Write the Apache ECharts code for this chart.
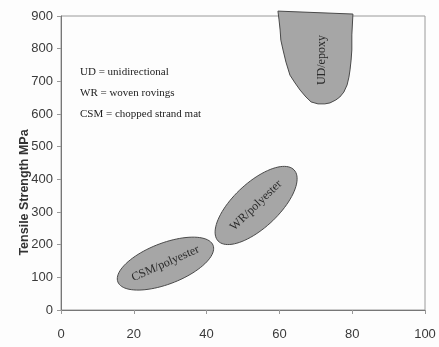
<!DOCTYPE html>
<html>
<head>
<meta charset="utf-8">
<script src="https://cdn.jsdelivr.net/npm/echarts@6/dist/echarts.min.js"></script>
<style>
html,body{margin:0;padding:0;background:#fdfdfd;}
#chart{width:439px;height:347px;}
</style>
</head>
<body>
<div id="chart"></div>
<script>
// ---- data ----
const xTicks = [0, 20, 40, 60, 80, 100];
const yTicks = [0, 100, 200, 300, 400, 500, 600, 700, 800, 900];
const yTitle = 'Tensile Strength MPa';
const ellipseNames = ['CSM/polyester', 'WR/polyester'];
const ellipseCenterX = [28.7, 53.6];
const ellipseCenterY = [142, 320];
const udName = 'UD/epoxy';
const udOutlineX = [59.6, 59.9, 60.2, 60.4, 61.0, 61.8, 62.9, 64.3, 65.7, 67.3, 68.7, 70.6, 72.5, 73.9, 75.5, 76.6, 77.7, 78.6, 79.1, 79.4, 79.7, 79.9, 79.9, 80.2];
const udOutlineY = [915, 888, 857, 826, 796, 759, 719, 695, 673, 652, 637, 631, 631, 634, 643, 652, 667, 689, 713, 735, 765, 796, 842, 906];
const udLabelX = [71.7];
const udLabelY = [765];
const notes = ['UD = unidirectional', 'WR = woven rovings', 'CSM = chopped strand mat'];

// ---- styles ----
const ellipseA = [51, 52];
const ellipseB = [20.5, 22.5];
const ellipseTilt = [21, 43];
const labelTilt = [24, 44];
const fillCol = '#a6a6a6';
const strokeCol = '#4a4a4a';
const serif = '"Liberation Serif", "Times New Roman", serif';
const sans = '"Liberation Sans", Arial, sans-serif';

const chart = echarts.init(document.getElementById('chart'), null, {renderer: 'canvas'});

function ellipseItem(params, api) {
  const i = params.dataIndex;
  const c = api.coord([api.value(0), api.value(1)]);
  const a = ellipseA[i], b = ellipseB[i], th = ellipseTilt[i] * Math.PI / 180;
  const pts = [];
  for (let k = 0; k < 90; k++) {
    const t = k / 90 * Math.PI * 2;
    const ex = a * Math.cos(t), ey = b * Math.sin(t);
    pts.push([c[0] + ex * Math.cos(th) - ey * Math.sin(th), c[1] - (ex * Math.sin(th) + ey * Math.cos(th))]);
  }
  return {
    type: 'group',
    children: [
      {type: 'polygon', shape: {points: pts}, style: {fill: fillCol, stroke: strokeCol, lineWidth: 1}},
      {type: 'text', x: c[0], y: c[1], rotation: labelTilt[i] * Math.PI / 180,
        style: {text: ellipseNames[i], font: '12px ' + serif, fill: '#2a2a2a', align: 'center', verticalAlign: 'middle'}}
    ]
  };
}

function udItem(params, api) {
  const pts = udOutlineX.map((x, k) => api.coord([x, udOutlineY[k]]));
  const lc = api.coord([udLabelX[0], udLabelY[0]]);
  return {
    type: 'group',
    children: [
      {type: 'polygon', shape: {points: pts}, style: {fill: fillCol, stroke: strokeCol, lineWidth: 1, lineJoin: 'round'}},
      {type: 'text', x: lc[0], y: lc[1], rotation: Math.PI / 2,
        style: {text: udName, font: '12px ' + serif, fill: '#2a2a2a', align: 'center', verticalAlign: 'middle'}}
    ]
  };
}

const option = {
  backgroundColor: '#fdfdfd',
  animation: false,
  grid: {left: 61, right: 14, top: 16, bottom: 37, show: true, borderColor: '#9a9a9a', borderWidth: 1, backgroundColor: 'transparent'},
  xAxis: {
    type: 'value', min: xTicks[0], max: xTicks[xTicks.length - 1], interval: 20,
    axisLine: {show: true, lineStyle: {color: '#777', width: 1}},
    axisTick: {show: true, inside: false, length: 4, lineStyle: {color: '#999'}},
    axisLabel: {margin: 18, color: '#3a3a3a', fontSize: 13, fontFamily: sans},
    splitLine: {show: false}
  },
  yAxis: {
    type: 'value', min: yTicks[0], max: yTicks[yTicks.length - 1], interval: 100,
    axisLine: {show: true, lineStyle: {color: '#777', width: 1}},
    axisTick: {show: true, length: 4, lineStyle: {color: '#999'}},
    axisLabel: {margin: 8, color: '#3a3a3a', fontSize: 13, fontFamily: sans},
    splitLine: {show: false}
  },
  graphic: notes.map((t, i) => ({
    type: 'text', left: 80, top: 67 + i * 21,
    style: {text: t, font: '11px ' + serif, fill: '#222'}
  })).concat([{
    type: 'text', x: 25, y: 192.5, rotation: Math.PI / 2,
    style: {text: yTitle, font: 'bold 12.5px ' + sans, fill: '#333', align: 'center', verticalAlign: 'middle'}
  }]),
  series: [
    {type: 'custom', renderItem: ellipseItem, data: ellipseCenterX.map((x, i) => [x, ellipseCenterY[i]]), clip: false, silent: true},
    {type: 'custom', renderItem: udItem, data: [[udLabelX[0], udLabelY[0]]], clip: false, silent: true}
  ]
};
chart.setOption(option);
</script>
</body>
</html>
